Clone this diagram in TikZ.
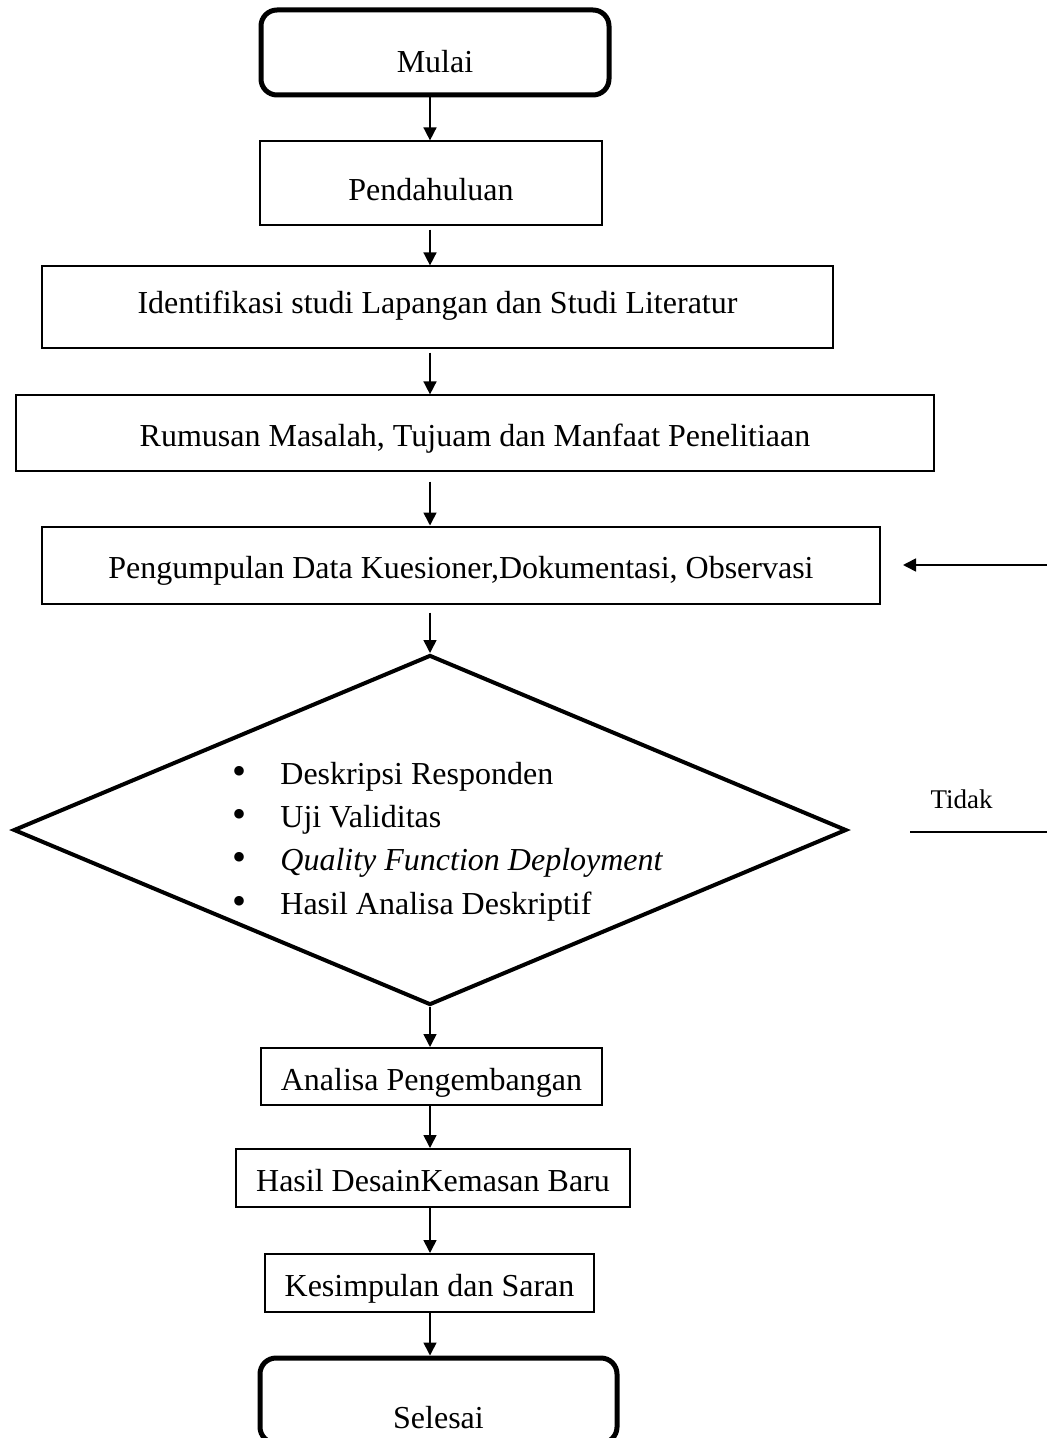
\documentclass[tikz,border=0pt]{standalone}
\usepackage{fontspec}
\setmainfont{Liberation Serif}
\usetikzlibrary{shapes,arrows.meta,positioning,matrix}

\newcommand{\bigbul}{{\fontsize{20pt}{20pt}\selectfont\textbullet}}

\begin{document}
\begin{tikzpicture}[x=0.5pt,y=-0.5pt]
    \tikzstyle{block} = [rectangle, draw, inner sep=0pt, text centered,
    font=\fontsize{16pt}{19pt}\selectfont,
    text height=13.6pt,
    text depth=0pt,
    line width=0.6pt]
    \tikzstyle{blockb} = [block, line width=1pt]
    \tikzstyle{term} = [block, rounded corners=8pt, line width=2.5pt]
    \tikzstyle{line} = [draw, line width=0.8pt, -{Triangle[length=6.5pt,width=6.5pt]}]

    \useasboundingbox (0,0) rectangle (1047,1438);
    \coordinate (spine) at (430,0);

    % Upper steps
    \node[term, minimum width=174pt, minimum height=42.5pt, text height=20pt] (mulai) at (435,52.5) {Mulai};
    \node[block, minimum width=171pt, minimum height=42pt, text height=17.6pt] (pend) at (431,183) {Pendahuluan};
    \node[block, minimum width=395.5pt, minimum height=41pt, text height=6.4pt] (ident) at (437.5,307) {Identifikasi studi Lapangan dan Studi Literatur};
    \node[block, minimum width=459pt, minimum height=38pt] (rumus) at (475,433) {Rumusan Masalah, Tujuam dan Manfaat Penelitiaan};
    \node[blockb, minimum width=419pt, minimum height=38.5pt] (kumpul) at (461,565) {Pengumpulan Data Kuesioner,Dokumentasi, Observasi};

    % Decision
    \node[draw, diamond, line width=2pt, inner sep=0pt, minimum width=416.5pt, minimum height=175pt] (cek) at (430,830) {};
    \matrix [matrix of nodes, anchor=north west, inner sep=0pt,
    nodes={inner sep=0pt, anchor=base west, font=\fontsize{16pt}{19pt}\selectfont,
    text height=12pt, text depth=9.6pt},
    column sep=17pt,
    row sep=0pt
    ] (uji) at (232,760) {
      \bigbul & Deskripsi Responden \\
      \bigbul & Uji Validitas \\
      \bigbul & \textit{Quality Function Deployment} \\
      \bigbul & Hasil Analisa Deskriptif \\
    };

    % Lower steps
    \node[blockb, minimum width=170.5pt, minimum height=28.5pt] (analisa) at (431.5,1076.5) {Analisa Pengembangan};
    \node[blockb, minimum width=197pt, minimum height=29pt] (hasil) at (433,1178) {Hasil DesainKemasan Baru};
    \node[blockb, minimum width=164.5pt, minimum height=29pt] (simpul) at (429.5,1283) {Kesimpulan dan Saran};
    \node[term, minimum width=178.5pt, minimum height=42.5pt, text height=27.5pt] (selesai) at (438.5,1400.5) {Selesai};

    % Feedback
    \coordinate (fbIn) at (1047,565);
    \node[font=\fontsize{13.5pt}{16pt}\selectfont, inner sep=0pt] (tidak) at (961.5,799) {Tidak};
    \coordinate (tidakL) at (910,832);
    \coordinate (tidakR) at (1047,832);

    % Arrows
    \path[line] (mulai.south -| spine) -- (pend.north -| spine);
    \path[line, shorten <=2pt] (pend.south -| spine) -- (ident.north -| spine);
    \path[line, shorten <=2pt] (ident.south -| spine) -- (rumus.north -| spine);
    \path[line, shorten <=5pt] (rumus.south -| spine) -- (kumpul.north -| spine);
    \path[line, shorten <=4pt] (kumpul.south -| spine) -- (cek.north);
    \path[line] (cek.south) -- (analisa.north -| spine);
    \path[line] (analisa.south -| spine) -- (hasil.north -| spine);
    \path[line] (hasil.south -| spine) -- (simpul.north -| spine);
    \path[line] (simpul.south -| spine) -- (selesai.north -| spine);
    \path[line, shorten >=11pt] (fbIn) -- (kumpul.east |- fbIn);
    \draw[line width=0.8pt] (tidakL) -- (tidakR);

\end{tikzpicture}
\end{document}
